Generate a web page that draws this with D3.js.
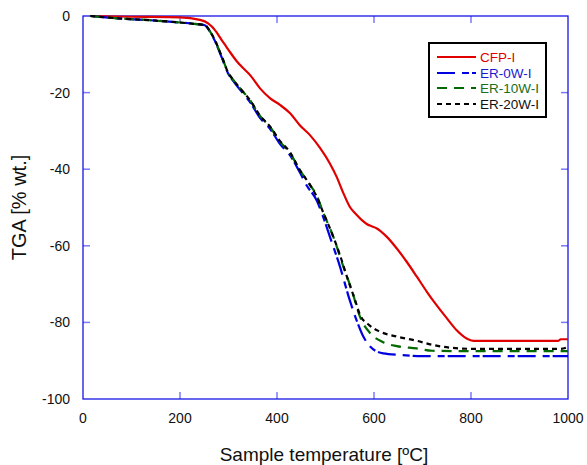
<!DOCTYPE html>
<html>
<head>
<meta charset="utf-8">
<script src="https://cdn.jsdelivr.net/npm/d3@7"></script>
<style>
  body { margin: 0; background: #fff; }
  text { font-family: "Liberation Sans", Arial, sans-serif; }
</style>
</head>
<body>
<svg id="chart" width="587" height="465"></svg>
<script>
// TGA curves (temperature in ºC, mass change in %)
var cfpT = [15, 100, 200, 241, 258, 265, 272, 279, 286, 295, 303, 317, 330, 345, 365, 386, 406, 427, 447, 468, 489, 509, 523, 537, 550, 564, 575, 585, 595, 605, 626, 647, 667, 688, 709, 729, 750, 770, 791, 805, 850, 900, 950, 980, 985, 1000];
var cfpV = [0, -0.2, -0.35, -1, -1.9, -2.7, -3.7, -4.9, -6.3, -7.9, -9.4, -11.8, -13.6, -15.5, -18.9, -21.5, -23.2, -25.4, -28.5, -31.1, -34.5, -38.5, -42, -46.3, -49.8, -51.9, -53.3, -54.3, -54.9, -55.4, -57.6, -60.7, -64.1, -68, -72, -75.5, -78.9, -82, -84.2, -84.8, -84.8, -84.8, -84.8, -84.8, -84.4, -84.4];

var er0T = [15, 70, 138, 200, 241, 251, 262, 272, 279, 286, 300, 310, 324, 344, 365, 386, 406, 427, 447, 461, 482, 495, 509, 530, 550, 564, 578, 592, 619, 654, 700, 800, 1000];
var er0V = [0, -0.6, -1.1, -1.7, -2.2, -2.4, -4.1, -6.5, -8.6, -10.8, -15.2, -17, -19.3, -22.4, -26.6, -29.5, -33.4, -36.4, -40.8, -44.2, -48.2, -52.4, -57.6, -65.5, -74.2, -79.4, -83.7, -86.3, -88.1, -88.5, -88.8, -88.8, -88.8];

var er10T = [15, 70, 138, 200, 241, 251, 262, 272, 279, 286, 300, 310, 324, 344, 365, 386, 406, 427, 447, 468, 482, 495, 516, 537, 554, 571, 592, 619, 647, 688, 720, 800, 1000];
var er10V = [0, -0.6, -1.1, -1.7, -2.2, -2.3, -4.1, -6.3, -8.4, -10.5, -15, -16.7, -18.9, -21.9, -26.1, -29, -32.8, -35.8, -40.2, -44.1, -46.9, -51.2, -57.6, -65.5, -71.5, -78.5, -82.8, -85.2, -86.2, -86.8, -87.4, -87.5, -87.5];

var er20T = [15, 70, 138, 200, 241, 251, 262, 272, 279, 286, 300, 310, 324, 344, 365, 386, 406, 427, 447, 468, 482, 495, 509, 530, 544, 561, 571, 588, 612, 647, 688, 722, 757, 804, 900, 985, 1000];
var er20V = [0, -0.6, -1.1, -1.7, -2.2, -2.3, -4.1, -6.3, -8.4, -10.5, -15, -16.7, -18.9, -21.9, -26, -28.9, -32.6, -35.6, -40.2, -44.1, -47.2, -51.2, -55.4, -62.5, -68, -74.2, -78, -80.5, -82.4, -83.7, -84.8, -85.9, -86.6, -86.9, -86.9, -86.9, -86.4];

var seriesNames = ["CFP-I", "ER-0W-I", "ER-10W-I", "ER-20W-I"];
var xTicks = [0, 200, 400, 600, 800, 1000];
var yTicks = [0, -20, -40, -60, -80, -100];

var svg = d3.select("#chart");
var plotL = 83, plotR = 568, plotT = 16, plotB = 399;   // NOTE: "top" is taken by window.top

var x = d3.scaleLinear().domain([0, 1000]).range([plotL, plotR]);
var y = d3.scaleLinear().domain([-100, 0]).range([plotB, plotT]);

var axisBlue = "#1414e6";
var tickBlue = "#7a7aff";

// ticks pointing inward on all four sides
var g = svg.append("g");
xTicks.forEach(function(t) {
  if (t === 0 || t === 1000) return;
  g.append("line").attr("x1", x(t)).attr("x2", x(t)).attr("y1", plotB).attr("y2", plotB - 7)
    .attr("stroke", tickBlue).attr("stroke-width", 1.5);
  g.append("line").attr("x1", x(t)).attr("x2", x(t)).attr("y1", plotT).attr("y2", plotT + 7)
    .attr("stroke", tickBlue).attr("stroke-width", 1.5);
});
yTicks.forEach(function(t) {
  if (t === 0 || t === -100) return;
  g.append("line").attr("x1", plotL).attr("x2", plotL + 7).attr("y1", y(t)).attr("y2", y(t))
    .attr("stroke", tickBlue).attr("stroke-width", 1.5);
  g.append("line").attr("x1", plotR).attr("x2", plotR - 7).attr("y1", y(t)).attr("y2", y(t))
    .attr("stroke", tickBlue).attr("stroke-width", 1.5);
});

// frame
svg.append("rect")
  .attr("x", plotL).attr("y", plotT)
  .attr("width", plotR - plotL).attr("height", plotB - plotT)
  .attr("fill", "none").attr("stroke", axisBlue).attr("stroke-width", 1.3);

// tick labels
svg.selectAll(".xl").data(xTicks).enter().append("text")
  .attr("x", function(d) { return x(d); })
  .attr("y", 423)
  .attr("text-anchor", "middle")
  .attr("font-size", 14)
  .attr("fill", "#111")
  .text(function(d) { return d; });

svg.selectAll(".yl").data(yTicks).enter().append("text")
  .attr("x", 70)
  .attr("y", function(d) { return y(d) + 5; })
  .attr("text-anchor", "end")
  .attr("font-size", 14)
  .attr("fill", "#111")
  .text(function(d) { return d; });

// axis titles
svg.append("text")
  .attr("x", 324).attr("y", 461)
  .attr("text-anchor", "middle").attr("font-size", 19).attr("fill", "#111")
  .text("Sample temperature [ºC]");

svg.append("text")
  .attr("transform", "translate(26," + ((plotT + plotB) / 2) + ") rotate(-90)")
  .attr("text-anchor", "middle").attr("font-size", 20).attr("fill", "#111")
  .text("TGA [% wt.]");

// curves
var series = [
  { name: seriesNames[0], t: cfpT, v: cfpV, color: "#e00000", dash: null, text: "#e00000" },
  { name: seriesNames[1], t: er0T, v: er0V, color: "#0000e0", dash: "18,7,7,3", text: "#1a1ad0" },
  { name: seriesNames[2], t: er10T, v: er10V, color: "#006a00", dash: "10,7", text: "#1a6e1a" },
  { name: seriesNames[3], t: er20T, v: er20V, color: "#000000", dash: "5,4", text: "#111" }
];

var line = d3.line()
  .x(function(d) { return x(d[0]); })
  .y(function(d) { return y(d[1]); })
  .curve(d3.curveMonotoneX);

// red first, then blue, green, black dashes on top
[0, 1, 2, 3].forEach(function(i) {
  var s = series[i];
  var pts = s.t.map(function(t, k) { return [t, s.v[k]]; });
  svg.append("path")
    .attr("d", line(pts))
    .attr("fill", "none")
    .attr("stroke", s.color)
    .attr("stroke-width", 2.2)
    .attr("stroke-dasharray", s.dash);
});

// legend
var lg = svg.append("g");
lg.append("rect")
  .attr("x", 429).attr("y", 43).attr("width", 117).attr("height", 74)
  .attr("fill", "#fff").attr("stroke", "#000").attr("stroke-width", 2);

var rowY = [57, 73, 88, 104];
series.forEach(function(s, i) {
  lg.append("line")
    .attr("x1", 437).attr("x2", 476)
    .attr("y1", rowY[i]).attr("y2", rowY[i])
    .attr("stroke", s.color).attr("stroke-width", 2.2)
    .attr("stroke-dasharray", s.dash);
  lg.append("text")
    .attr("x", 480).attr("y", rowY[i] + 5)
    .attr("font-size", 13.5)
    .attr("fill", s.text)
    .text(s.name);
});
</script>
</body>
</html>
